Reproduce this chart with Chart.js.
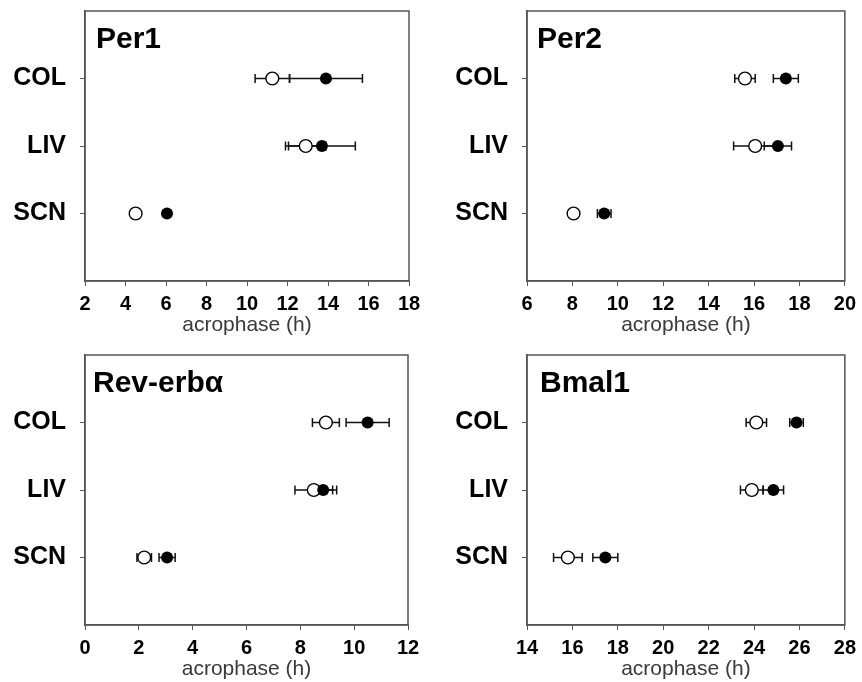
<!DOCTYPE html>
<html>
<head>
<meta charset="utf-8">
<script src="https://cdn.jsdelivr.net/npm/chart.js@4"></script>
<style>
  body { margin: 0; background: #fff; }
  #wrap { position: relative; width: 862px; height: 682px; }
  canvas { position: absolute; }
</style>
</head>
<body>
<div id="wrap">
  <canvas id="per1" width="431" height="335" style="left:0;top:1px"></canvas>
  <canvas id="per2" width="431" height="335" style="left:431px;top:1px"></canvas>
  <canvas id="rev" width="431" height="335" style="left:0;top:345px"></canvas>
  <canvas id="bmal" width="431" height="335" style="left:431px;top:345px"></canvas>
</div>
<script>
// tissues (top to bottom)
const categories = ['COL', 'LIV', 'SCN'];

// acrophase (h): open = white circles, filled = black circles, err = half width of the bar
const per1Open = [11.25, 12.9, 4.5];
const per1OpenErr = [0.85, 1.0, 0];
const per1Filled = [13.9, 13.7, 6.05];
const per1FilledErr = [1.8, 1.65, 0.15];

const per2Open = [15.6, 16.05, 8.05];
const per2OpenErr = [0.45, 0.95, 0.12];
const per2Filled = [17.4, 17.05, 9.4];
const per2FilledErr = [0.55, 0.6, 0.3];

const revOpen = [8.95, 8.5, 2.2];
const revOpenErr = [0.5, 0.7, 0.27];
const revFilled = [10.5, 8.85, 3.05];
const revFilledErr = [0.8, 0.5, 0.3];

const bmalOpen = [24.1, 23.9, 15.8];
const bmalOpenErr = [0.45, 0.5, 0.63];
const bmalFilled = [25.87, 24.85, 17.45];
const bmalFilledErr = [0.3, 0.45, 0.55];

const FONT = '"Liberation Sans", Arial, sans-serif';

// horizontal error bars, drawn under the points
const errorBars = {
    id: 'errorBars',
    beforeDatasetsDraw(chart) {
        const ctx = chart.ctx;
        const xs = chart.scales.x;
        const ys = chart.scales.y;
        ctx.save();
        ctx.strokeStyle = '#111';
        ctx.lineWidth = 1.5;
        chart.data.datasets.forEach(ds => {
            ds.data.forEach(p => {
                if (!p.err) return;
                const y = ys.getPixelForValue(p.y);
                const x1 = xs.getPixelForValue(p.x - p.err);
                const x2 = xs.getPixelForValue(p.x + p.err);
                ctx.beginPath();
                ctx.moveTo(x1, y); ctx.lineTo(x2, y);
                ctx.moveTo(x1, y - 4.5); ctx.lineTo(x1, y + 4.5);
                ctx.moveTo(x2, y - 4.5); ctx.lineTo(x2, y + 4.5);
                ctx.stroke();
            });
        });
        ctx.restore();
    }
};

// box round the plot area + gene name in the corner
const frameAndTitle = {
    id: 'frameAndTitle',
    beforeDatasetsDraw(chart, args, opts) {
        const { ctx, chartArea } = chart;
        ctx.save();
        ctx.strokeStyle = '#555';
        ctx.lineWidth = 1.5;
        ctx.strokeRect(chartArea.left, chartArea.top, chartArea.width, chartArea.height);
        ctx.fillStyle = '#000';
        ctx.font = 'bold 30px ' + FONT;
        ctx.textBaseline = 'alphabetic';
        ctx.fillText(opts.text, chartArea.left + opts.dx, chartArea.top + 37);
        ctx.restore();
    }
};

function toPoints(values, errs) {
    return values.map((v, i) => ({ x: v, y: i + 1, err: errs[i] }));
}

function makePanel(id, title, min, max, open, openErr, filled, filledErr, yWidth, padRight, titleDx) {
    new Chart(document.getElementById(id), {
        type: 'scatter',
        data: {
            datasets: [
                {
                    data: toPoints(filled, filledErr),
                    backgroundColor: '#000',
                    borderColor: '#000',
                    borderWidth: 0,
                    pointRadius: 6
                },
                {
                    data: toPoints(open, openErr),
                    backgroundColor: '#fff',
                    borderColor: '#000',
                    borderWidth: 1.4,
                    pointRadius: 6.4
                }
            ]
        },
        options: {
            responsive: false,
            animation: false,
            layout: { padding: { top: 10, right: padRight, left: 0, bottom: 0 } },
            plugins: {
                legend: { display: false },
                tooltip: { enabled: false },
                frameAndTitle: { text: title, dx: titleDx }
            },
            scales: {
                x: {
                    type: 'linear',
                    min: min,
                    max: max,
                    ticks: { stepSize: 2, color: '#000', padding: 6, font: { family: FONT, size: 20, weight: 'bold' } },
                    grid: { drawOnChartArea: false, tickLength: 5, color: '#555' },
                    border: { color: '#555', width: 1.5 },
                    title: {
                        display: true,
                        text: 'acrophase (h)',
                        color: '#3a3a3a',
                        padding: { top: 0, bottom: 0 },
                        font: { family: FONT, size: 21, lineHeight: 1 }
                    },
                    afterFit: s => { s.height = 55; }
                },
                y: {
                    type: 'linear',
                    min: 0,
                    max: 4,
                    reverse: true,
                    afterBuildTicks: s => { s.ticks = categories.map((c, i) => ({ value: i + 1 })); },
                    ticks: {
                        color: '#000',
                        padding: 14,
                        font: { family: FONT, size: 25, weight: 'bold' },
                        callback: v => categories[v - 1]
                    },
                    grid: { drawOnChartArea: false, tickLength: 5, color: '#555' },
                    border: { color: '#555', width: 1.5 },
                    afterFit: s => {
                        s.width = yWidth;
                        s.paddingTop = 0;
                        s.paddingBottom = 0;
                    }
                }
            }
        },
        plugins: [errorBars, frameAndTitle]
    });
}

makePanel('per1', 'Per1', 2, 18, per1Open, per1OpenErr, per1Filled, per1FilledErr, 85, 22, 11);
makePanel('per2', 'Per2', 6, 20, per2Open, per2OpenErr, per2Filled, per2FilledErr, 96, 11, 10);
makePanel('rev', 'Rev-erbα', 0, 12, revOpen, revOpenErr, revFilled, revFilledErr, 85, 23, 8);
makePanel('bmal', 'Bmal1', 14, 28, bmalOpen, bmalOpenErr, bmalFilled, bmalFilledErr, 96, 11, 13);
</script>
</body>
</html>
